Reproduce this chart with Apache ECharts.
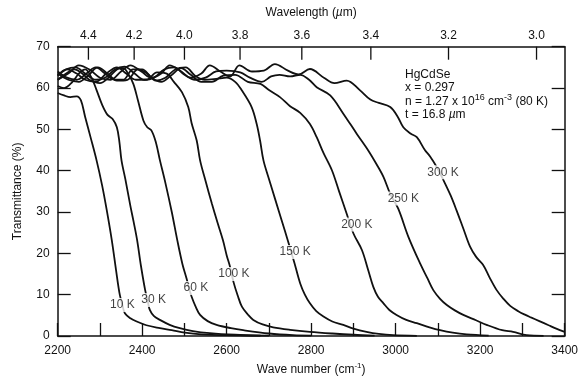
<!DOCTYPE html>
<html><head><meta charset="utf-8">
<script src="https://cdn.jsdelivr.net/npm/echarts/dist/echarts.min.js"></script>
<style>html,body{margin:0;padding:0;background:#fff}#c{width:582px;height:377px}</style>
</head><body><div id="c"></div>
<script>
// Top axis wavelength ticks (µm)
const wavelengthTicks = [4.4, 4.2, 4.0, 3.8, 3.6, 3.4, 3.2, 3.0];
const wavelengthLabels = ['4.4', '4.2', '4.0', '3.8', '3.6', '3.4', '3.2', '3.0'];
const tempNames = ['10 K', '30 K', '60 K', '100 K', '150 K', '200 K', '250 K', '300 K'];
// curve label anchors [wave number, transmittance]
const labelAnchors = [[2353,7.5],[2427,8.7],[2527,11.6],[2617,15.0],[2762,20.3],[2908,27.0],[3018,33.3],[3112,39.6]];

// Transmittance (%) vs wave number (cm^-1)
const k10 = [[2200,58.8],[2215,58.2],[2230,57.8],[2245,58.0],[2255,57.0],[2265,53],[2278,48],[2292,42.5],[2305,36.5],[2316,30.5],[2328,23.2],[2338,16],[2346,10.5],[2353,7.5],[2359,5.5],[2372,4.3],[2387,3.5],[2410,2.6],[2442,1.9],[2470,1.4],[2501,0.8],[2540,0.4],[2600,0.2],[2700,0.1]];
const k30 = [[2200,60.5],[2215,60],[2235,61.5],[2250,63.5],[2265,64.5],[2280,62.5],[2292,59.5],[2305,56],[2318,53.5],[2330,52.5],[2340,50.5],[2346,47],[2351,42.5],[2360,38],[2372,31.5],[2380,27.5],[2388,23.2],[2397,17],[2407,11.1],[2413,8.5],[2418,6.3],[2428,4.8],[2442,3.9],[2465,2.7],[2489,1.9],[2520,1.2],[2560,0.7],[2620,0.3],[2680,0.1]];
const k60 = [[2200,62],[2220,63.5],[2240,64.5],[2258,63.5],[2275,62],[2300,61.2],[2320,62.5],[2340,64.5],[2355,64.8],[2368,63.2],[2379,61],[2390,57],[2403,52.1],[2412,50.5],[2422,49.7],[2432,47],[2442,42.5],[2455,37],[2470,30],[2483,23.2],[2495,17.5],[2505,13.9],[2511,11.5],[2517,9.5],[2527,7],[2537,5.1],[2555,3.6],[2576,2.7],[2610,1.9],[2639,1.4],[2700,0.6],[2757,0.2],[2800,0.1]];
const k100 = [[2200,63],[2222,64.5],[2245,63.5],[2265,62],[2290,61.5],[2315,63.5],[2340,65],[2362,63.5],[2385,62],[2410,62],[2435,63.8],[2458,63.5],[2475,61.5],[2494,59],[2509,55.4],[2517,51.5],[2529,47.3],[2537,42.5],[2550,37.5],[2565,32],[2578,27.5],[2591,23.2],[2600,19.5],[2608,16.7],[2616,13.1],[2626,9.8],[2636,7.1],[2650,5.2],[2663,3.9],[2685,2.8],[2710,2.1],[2750,1.5],[2797,1.0],[2850,0.6],[2900,0.3],[2950,0.1]];
const k150 = [[2200,63.5],[2225,62],[2250,61.5],[2272,63],[2295,65],[2318,63.5],[2340,61.8],[2365,62],[2390,64.5],[2412,63.5],[2432,61.8],[2455,62.5],[2478,64.5],[2503,65],[2525,63],[2548,62],[2575,62.2],[2600,62.5],[2620,61.5],[2636,59.4],[2659,55.4],[2671,51.3],[2679,47.3],[2687,42.5],[2700,38],[2715,33],[2730,28],[2745,23],[2760,17.8],[2774,12.7],[2785,10],[2797,7.9],[2812,6],[2829,4.7],[2850,3.5],[2876,2.7],[2900,1.8],[2931,1.0],[2960,0.5],[2994,0.2],[3050,0.05]];
const k200 = [[2200,64],[2222,62.5],[2245,62],[2268,63.5],[2290,65],[2312,63.5],[2335,62],[2355,62],[2378,64.5],[2400,64.5],[2422,62.5],[2445,61.5],[2468,63],[2492,64.8],[2515,63.2],[2540,61.5],[2565,61.5],[2592,63],[2620,63.2],[2650,61.5],[2680,61],[2700,59.5],[2726,57.8],[2750,55.6],[2774,54],[2797,51.3],[2813,48.1],[2829,44.3],[2849,40.1],[2866,35],[2884,29.6],[2900,24.8],[2920,20.8],[2935,15.9],[2947,11.9],[2958,9.5],[2971,7.9],[2985,6.3],[3002,5.1],[3025,3.9],[3050,3.1],[3080,2.1],[3105,1.4],[3135,0.8],[3168,0.4],[3220,0.1]];
const k250 = [[2200,63],[2220,64.5],[2242,65],[2265,63.5],[2290,62],[2312,62.5],[2335,64.5],[2358,65.2],[2382,63.5],[2405,62],[2428,62.5],[2452,64.5],[2476,65],[2500,63.2],[2525,62],[2550,62.5],[2575,64],[2600,64.2],[2632,63.8],[2655,62.5],[2683,61.5],[2705,62.8],[2725,63.2],[2750,62.8],[2774,63.2],[2795,62],[2813,60.2],[2845,58.2],[2876,53.8],[2908,48.9],[2935,44.9],[2955,41.5],[2971,38.5],[2987,34.4],[3006,30.8],[3030,24],[3058,17.5],[3075,14],[3089,11.1],[3105,9],[3121,7.5],[3140,6.2],[3160,5.1],[3190,3.8],[3215,2.7],[3252,1.4],[3278,1.0],[3310,0.2],[3350,0.05]];
const k300 = [[2200,62],[2225,63.5],[2250,65.5],[2275,64.5],[2300,62.5],[2325,62],[2350,64],[2372,65.5],[2398,64],[2422,62.5],[2445,63.5],[2465,65.5],[2490,64.2],[2515,62.5],[2540,63.5],[2560,65.5],[2585,64],[2608,62.8],[2630,65.5],[2660,64],[2688,64.2],[2714,65.8],[2745,64.2],[2770,63.3],[2797,64.6],[2830,62.5],[2855,61.2],[2884,61.8],[2915,59.5],[2940,57.2],[2960,56.4],[2987,55.4],[3005,53],[3018,50.5],[3035,49],[3050,48.1],[3069,45],[3081,43.5],[3097,40.9],[3113,37.7],[3130,34],[3144,30.4],[3160,26],[3176,21.6],[3190,19.2],[3207,17.2],[3222,14.2],[3239,11.1],[3255,9],[3271,7.3],[3290,6.0],[3307,5.1],[3320,4.5],[3340,3.6],[3362,2.6],[3380,1.8],[3400,1.0]];

const curves = [k10, k30, k60, k100, k150, k200, k250, k300];
const FONT = '"Liberation Sans", Arial, Helvetica, sans-serif';
const INK = '#111';

const chart = echarts.init(document.getElementById('c'), null, {renderer: 'canvas'});
const lineSeries = curves.map((d, i) => ({
  name: tempNames[i], type: 'line', data: d, xAxisIndex: 0, yAxisIndex: 0,
  showSymbol: false, smooth: 0.35, silent: true,
  lineStyle: {color: INK, width: 1.8}, z: 2
}));

chart.setOption({
  animation: false,
  backgroundColor: '#fff',
  textStyle: {fontFamily: FONT, color: INK},
  grid: {left: 57.7, right: 17.3, top: 46.7, bottom: 41, containLabel: false, outerBoundsMode: 'none'},
  xAxis: [{
    type: 'value', position: 'bottom', min: 2200, max: 3400, interval: 200,
    name: 'Wave number (cm{sup|-1})', nameLocation: 'middle', nameGap: 25,
    nameTextStyle: {fontSize: 12, color: INK, fontFamily: FONT,
      rich: {sup: {fontSize: 8, color: INK, fontFamily: FONT, padding: [0, 0, 8, 0]}}},
    axisLine: {show: true, onZero: false, lineStyle: {color: INK, width: 1.5}},
    axisTick: {show: true, inside: true, length: 13, lineStyle: {color: INK, width: 1.3}},
    minorTick: {show: true, splitNumber: 2, length: 13, lineStyle: {color: INK, width: 1.3}},
    axisLabel: {fontSize: 12, color: INK, margin: 9, fontFamily: FONT, formatter: v => String(v)},
    splitLine: {show: false}, minorSplitLine: {show: false}
  }, {
    type: 'value', position: 'top', min: 2200, max: 3400,
    name: 'Wavelength ({i|µ}m)', nameLocation: 'middle', nameGap: 28,
    nameTextStyle: {fontSize: 12, color: INK, fontFamily: FONT,
      rich: {i: {fontSize: 12, fontStyle: 'italic', color: INK, fontFamily: FONT}}},
    axisLine: {show: true, onZero: false, lineStyle: {color: INK, width: 1.5}},
    axisTick: {show: false}, axisLabel: {show: false}, splitLine: {show: false}
  }],
  yAxis: [{
    type: 'value', position: 'left', min: 0, max: 70, interval: 10,
    name: 'Transmittance (%)', nameLocation: 'middle', nameGap: 34,
    nameTextStyle: {fontSize: 12, color: INK, fontFamily: FONT},
    axisLine: {show: true, onZero: false, lineStyle: {color: INK, width: 1.5}},
    axisTick: {show: true, inside: true, length: 13, lineStyle: {color: INK, width: 1.3}},
    axisLabel: {fontSize: 12, color: INK, margin: 8, fontFamily: FONT},
    splitLine: {show: false}
  }, {
    type: 'value', position: 'right', min: 0, max: 70, interval: 10,
    axisLine: {show: true, onZero: false, lineStyle: {color: INK, width: 1.5}},
    axisTick: {show: true, inside: true, length: 13, lineStyle: {color: INK, width: 1.3}},
    axisLabel: {show: false}, splitLine: {show: false}
  }],
  graphic: [{
    type: 'text', left: 405, top: 68,
    style: {
      text: 'HgCdSe\nx = 0.297\nn = 1.27 x 10{sup|16} cm{sup|-3} (80 K)\nt = 16.8 {i|µ}m',
      fontSize: 12, fontFamily: FONT, fill: INK, lineHeight: 13.4,
      rich: {
        sup: {fontSize: 9, fontFamily: FONT, fill: INK, padding: [0, 0, 7, 0]},
        i: {fontSize: 12, fontStyle: 'italic', fontFamily: FONT, fill: INK}
      }
    }
  }],
  series: lineSeries.concat([{
    name: 'wavelength ticks', type: 'custom', xAxisIndex: 1, yAxisIndex: 0, clip: false, silent: true,
    data: wavelengthTicks.map(l => [1e4 / l, 70]),
    renderItem: (params, api) => {
      const p = api.coord([api.value(0), api.value(1)]);
      return {type: 'group', children: [
        {type: 'line', shape: {x1: p[0], y1: p[1], x2: p[0], y2: p[1] + 13},
          style: {stroke: INK, lineWidth: 1.3}},
        {type: 'text', x: p[0], y: p[1] - 5,
          style: {text: wavelengthLabels[params.dataIndex], align: 'center', verticalAlign: 'bottom',
            fontSize: 12, fontFamily: FONT, fill: INK}}
      ]};
    }, z: 3
  }, {
    name: 'curve labels', type: 'scatter', xAxisIndex: 0, yAxisIndex: 0, silent: true,
    data: labelAnchors, symbolSize: 1, itemStyle: {color: 'rgba(0,0,0,0)'},
    label: {show: true, position: 'inside', formatter: p => tempNames[p.dataIndex],
      fontSize: 12, fontFamily: FONT, color: INK, backgroundColor: '#fff', padding: [1, 1]},
    z: 5
  }])
});
</script></body></html>
